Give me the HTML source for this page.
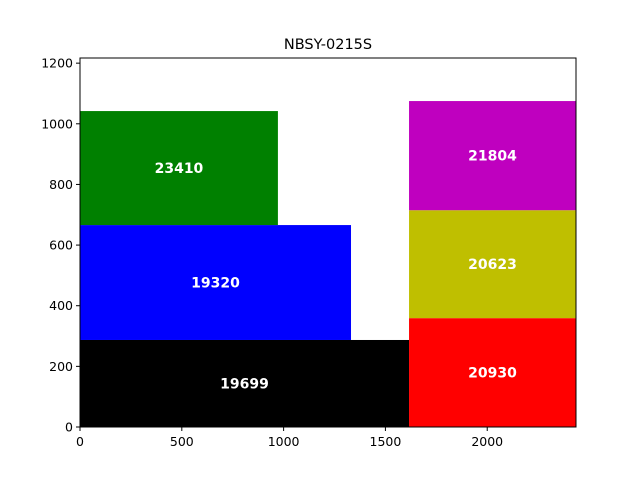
<!DOCTYPE html>
<html><head><meta charset="utf-8"><style>
body{margin:0;background:#fff;}
text{font-family:"DejaVu Sans","Liberation Sans",sans-serif;}
</style></head><body>
<svg id="chart" width="640" height="480" xmlns="http://www.w3.org/2000/svg">
<rect width="640" height="480" fill="#fff"/>
<text x="328" y="49" text-anchor="middle" font-size="14.5">NBSY-0215S</text>
<g id="bars"></g>
<rect x="80" y="58" width="496" height="369" fill="none" stroke="#000" stroke-width="1"/>
<g id="axes"></g>
</svg>
<script>
const labels = ["19699","19320","23410","20930","20623","21804"];
const xStart = [0,0,0,1616,1616,1616];
const widths = [1616,1331,972,820,820,820];
const yStart = [0,287,666,0,359,715];
const heights = [287,379,376,359,356,360];
const colors = ["#000000","#0000ff","#008000","#ff0000","#bfbf00","#bf00bf"];
const xTicks = [0,500,1000,1500,2000];
const yTicks = [0,200,400,600,800,1000,1200];
const X0=80,X1=576,Y0=427,Y1=58,XMAX=2436,YMAX=1217;
const sx=v=>X0+v/XMAX*(X1-X0);
const sy=v=>Y0-v/YMAX*(Y0-Y1);
const NS="http://www.w3.org/2000/svg";
const bars=document.getElementById('bars');
labels.forEach((lab,i)=>{
  const r=document.createElementNS(NS,'rect');
  r.setAttribute('x',sx(xStart[i]));
  r.setAttribute('y',sy(yStart[i]+heights[i]));
  r.setAttribute('width',sx(xStart[i]+widths[i])-sx(xStart[i]));
  r.setAttribute('height',sy(yStart[i])-sy(yStart[i]+heights[i]));
  r.setAttribute('fill',colors[i]);
  
  
  bars.appendChild(r);
  const t=document.createElementNS(NS,'text');
  t.setAttribute('x',sx(xStart[i]+widths[i]/2));
  t.setAttribute('y',sy(yStart[i]+heights[i]/2)+5);
  t.setAttribute('text-anchor','middle');
  t.setAttribute('font-size','14');
  t.setAttribute('font-weight','bold');
  t.setAttribute('fill','#fff');
  t.textContent=lab;
  
  
  bars.appendChild(t);
});
const axes=document.getElementById('axes');
xTicks.forEach(v=>{
  const x=sx(v);
  const l=document.createElementNS(NS,'line');
  l.setAttribute('x1',x);l.setAttribute('x2',x);l.setAttribute('y1',Y0);l.setAttribute('y2',Y0+4);
  l.setAttribute('stroke','#000');
  
  
  axes.appendChild(l);
  const t=document.createElementNS(NS,'text');
  t.setAttribute('x',x);t.setAttribute('y',Y0+19);t.setAttribute('text-anchor','middle');t.setAttribute('font-size','12.5');
  t.textContent=v;
  
  
  axes.appendChild(t);
});
yTicks.forEach(v=>{
  const y=sy(v);
  const l=document.createElementNS(NS,'line');
  l.setAttribute('x1',X0-4);l.setAttribute('x2',X0);l.setAttribute('y1',y);l.setAttribute('y2',y);
  l.setAttribute('stroke','#000');
  
  
  axes.appendChild(l);
  const t=document.createElementNS(NS,'text');
  t.setAttribute('x',X0-7);t.setAttribute('y',y+4.5);t.setAttribute('text-anchor','end');t.setAttribute('font-size','12.5');
  t.textContent=v;
  
  
  axes.appendChild(t);
});
</script>
</body></html>
